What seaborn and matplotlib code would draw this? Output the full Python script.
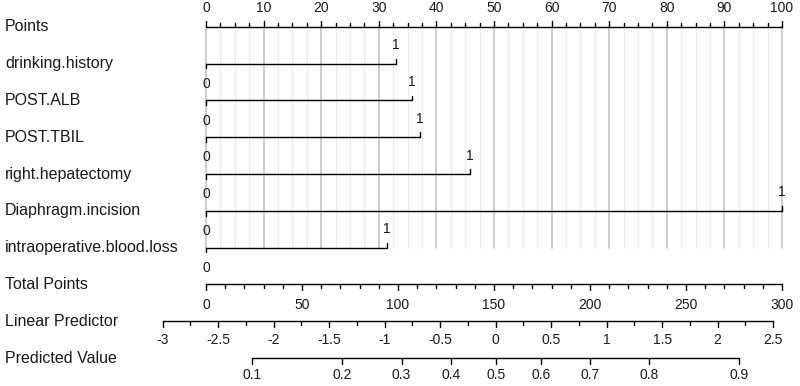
#Nomogram chart

#importing necessary libraries
import numpy as np
import pandas as pd
import matplotlib.pyplot as plt
import seaborn as sns

#data
variables = ['drinking.history', 'POST.ALB', 'POST.TBIL', 'right.hepatectomy',
             'Diaphragm.incision', 'intraoperative.blood.loss']
var_points = [33.0, 35.8, 37.2, 45.8, 100.0, 31.4]
level_low = ['0', '0', '0', '0', '0', '0']
level_high = ['1', '1', '1', '1', '1', '1']

points_ticks = [0, 10, 20, 30, 40, 50, 60, 70, 80, 90, 100]
total_ticks = [0, 50, 100, 150, 200, 250, 300]
lp_ticks = [-3, -2.5, -2, -1.5, -1, -0.5, 0, 0.5, 1, 1.5, 2, 2.5]
pred_ticks = [0.1, 0.2, 0.3, 0.4, 0.5, 0.6, 0.7, 0.8, 0.9]

#linear predictor at 0 total points, and change per total point
lp_intercept = -2.61
lp_per_total = 0.0173

sns.set_theme(style='white')
plt.rcParams['font.family'] = ['Liberation Sans', 'DejaVu Sans']

fig = plt.figure(figsize=(8, 3.86), dpi=100)
ax = fig.add_axes([0, 0, 1, 1])
ax.set_xlim(-35.76, 103.13)
ax.set_ylim(9.76, -0.73)
ax.axis('off')

txt_col = '#1a1a1a'
row_names = ['Points'] + variables + ['Total Points', 'Linear Predictor', 'Predicted Value']
for i, name in enumerate(row_names):
    ax.text(-34.9, i, name, ha='left', va='center', fontsize=11.5, color=txt_col)

lab_fs = 10
major = 0.16
minor = 0.10

#gridlines behind points scale
n_vars = len(variables)
for g in np.arange(0, 100.01, 2.5):
    is_major = abs(g / 10 - round(g / 10)) < 1e-9
    ax.plot([g, g], [0, n_vars], color='#c9c9c9' if is_major else '#ebebeb',
            lw=1.3 if is_major else 0.9, zorder=0)

#points scale (ticks up)
ax.plot([0, 100], [0, 0], color='black', lw=1)
for t in np.arange(0, 100.01, 2.5):
    is_major = t in points_ticks
    ax.plot([t, t], [0, -(major if is_major else minor)], color='black', lw=1)
for t in points_ticks:
    ax.text(t, -0.52, str(t), ha='center', va='center', fontsize=lab_fs, color=txt_col)

#variable lines through seaborn
seg = pd.DataFrame({
    'variable': np.repeat(variables, 2),
    'points': np.ravel([[0, p] for p in var_points]),
    'row': np.repeat(np.arange(1, n_vars + 1), 2),
})
sns.lineplot(data=seg, x='points', y='row', units='variable', estimator=None,
             color='black', lw=1, ax=ax, legend=False, sort=False)
for i, (p, lo, hi) in enumerate(zip(var_points, level_low, level_high)):
    r = i + 1
    ax.plot([0, 0], [r, r + 0.13], color='black', lw=1)
    ax.plot([p, p], [r, r - 0.13], color='black', lw=1)
    ax.text(0, r + 0.55, lo, ha='center', va='center', fontsize=lab_fs, color=txt_col)
    ax.text(p, r - 0.5, hi, ha='center', va='center', fontsize=lab_fs, color=txt_col)

#total points scale (ticks down)
r = n_vars + 1
ax.plot([0, 100], [r, r], color='black', lw=1)
for t in np.arange(0, 300.01, 10):
    ax.plot([t / 3, t / 3], [r, r + (major if t in total_ticks else minor)], color='black', lw=1)
for t in total_ticks:
    ax.text(t / 3, r + 0.55, str(t), ha='center', va='center', fontsize=lab_fs, color=txt_col)

#linear predictor scale
def lp_x(v):
    return (v - lp_intercept) / lp_per_total / 3

r = n_vars + 2
ax.plot([lp_x(lp_ticks[0]), lp_x(lp_ticks[-1])], [r, r], color='black', lw=1)
for t in np.arange(lp_ticks[0], lp_ticks[-1] + 0.001, 0.25):
    is_major = abs(t * 2 - round(t * 2)) < 1e-9
    ax.plot([lp_x(t), lp_x(t)], [r, r + (major if is_major else minor)], color='black', lw=1)
for t in lp_ticks:
    ax.text(lp_x(t), r + 0.5, f'{t:g}', ha='center', va='center', fontsize=lab_fs, color=txt_col)

#predicted value scale (logit transform)
r = n_vars + 3
px = [lp_x(np.log(p / (1 - p))) for p in pred_ticks]
ax.plot([px[0], px[-1]], [r, r], color='black', lw=1)
for x, t in zip(px, pred_ticks):
    ax.plot([x, x], [r, r + major], color='black', lw=1)
    ax.text(x, r + 0.47, f'{t:g}', ha='center', va='center', fontsize=lab_fs, color=txt_col)

plt.savefig('out.png', dpi=100)
